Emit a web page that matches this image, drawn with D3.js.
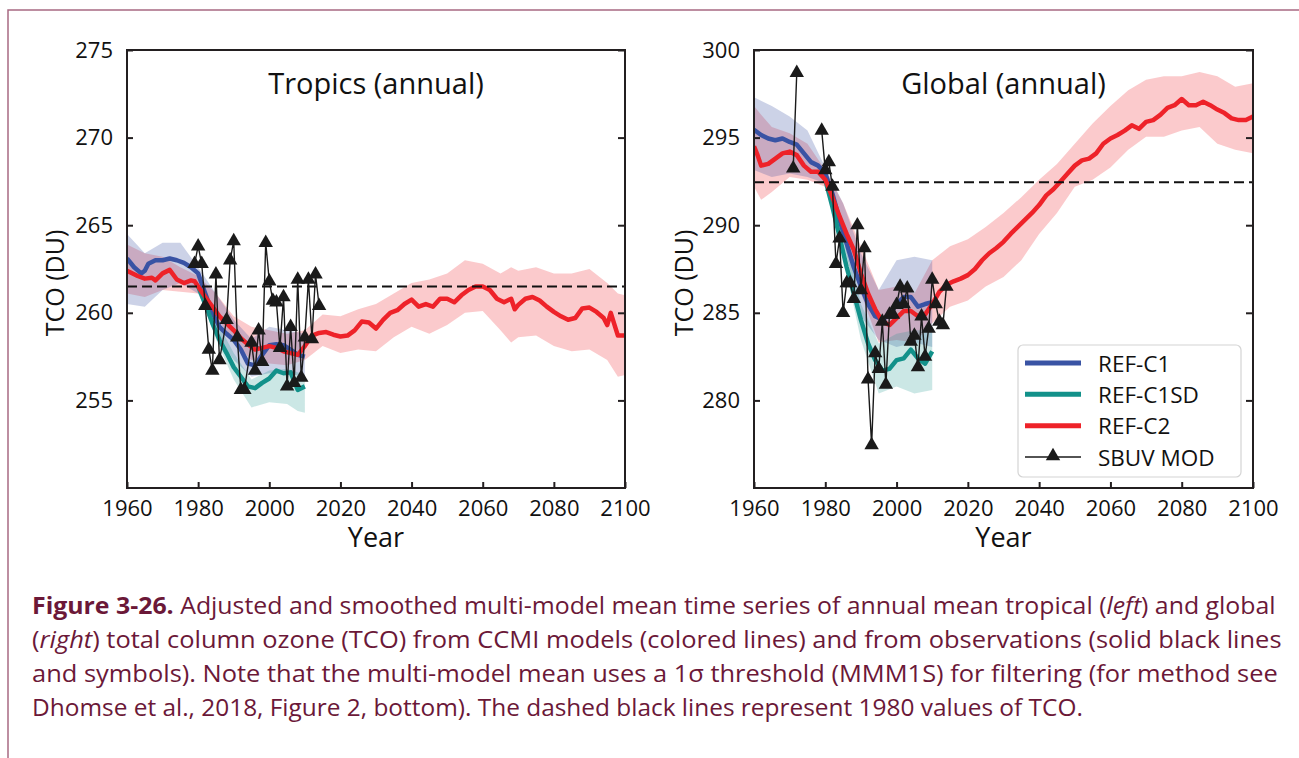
<!DOCTYPE html>
<html><head><meta charset="utf-8">
<script src="https://cdn.jsdelivr.net/npm/d3@7"></script>
<style>body{margin:0;background:#fff} svg{display:block}</style>
</head><body><svg id="c" width="1299" height="758"></svg>
<script>
// ---------------- DATA ----------------
const xTicks = [1960,1980,2000,2020,2040,2060,2080,2100];
const tropYTicks = [255,260,265,270,275];
const globYTicks = [280,285,290,295,300];
const seriesNames = ["REF-C1","REF-C1SD","REF-C2","SBUV MOD"];

// Tropics
const tropRef1980 = 261.5;
const tropC2 = [[1960,262.4],[1962,262.2],[1963,262.1],[1965,261.95],[1967,262.0],[1968,261.85],[1970,262.25],[1972,262.45],[1974,261.9],[1976,261.7],[1978,261.85],[1979,261.8],[1980,261.5],[1982,260.9],[1984,260.35],[1986,259.8],[1988,259.4],[1990,259.0],[1992,258.55],[1994,258.2],[1996,257.9],[1998,258.0],[2000,258.1],[2002,258.0],[2004,257.8],[2006,257.7],[2008,257.6],[2010,258.1],[2012,258.7],[2014,258.85],[2016,258.9],[2018,258.75],[2020,258.65],[2022,258.7],[2024,259.0],[2026,259.5],[2028,259.45],[2030,259.1],[2032,259.6],[2034,260.0],[2036,260.15],[2038,260.5],[2040,260.75],[2042,260.35],[2044,260.5],[2046,260.35],[2048,260.8],[2050,260.8],[2052,260.6],[2054,261.0],[2056,261.3],[2058,261.5],[2060,261.5],[2062,261.3],[2064,260.8],[2066,260.6],[2068,260.8],[2069,260.2],[2070,260.45],[2072,260.8],[2074,260.9],[2076,260.7],[2078,260.35],[2080,260.05],[2082,259.8],[2084,259.6],[2086,259.7],[2088,260.25],[2090,260.3],[2092,260.05],[2094,259.7],[2095,259.3],[2096,260.0],[2098,258.7],[2100,258.7]];
const tropC2Band = [[1960,261.1,263.9],[1965,260.9,263.4],[1970,261.3,263.2],[1975,261.2,262.6],[1980,261.1,262.1],[1985,259.8,261.1],[1990,258.3,259.8],[1995,257.3,259.2],[2000,257.1,259.0],[2005,257.0,258.8],[2010,257.3,259.0],[2015,258.1,259.9],[2020,257.7,259.8],[2025,257.9,260.2],[2030,257.8,260.5],[2035,258.6,261.1],[2040,259.2,261.7],[2045,258.8,261.9],[2050,259.3,262.25],[2055,260.0,263.0],[2060,260.1,262.8],[2065,259.0,262.25],[2068,258.3,262.6],[2070,258.6,262.4],[2075,258.7,262.6],[2080,258.1,262.25],[2085,257.8,262.25],[2090,257.9,262.5],[2095,257.3,261.7],[2098,256.35,261.1],[2100,256.45,261.0]];
const tropC1 = [[1960,263.1],[1962,262.6],[1964,262.25],[1965,262.4],[1966,262.8],[1968,263.0],[1970,263.0],[1972,263.1],[1974,263.0],[1976,262.85],[1978,262.6],[1980,262.25],[1982,261.1],[1984,260.0],[1986,259.2],[1988,258.8],[1990,258.45],[1992,257.9],[1994,257.1],[1996,257.0],[1998,257.6],[2000,258.15],[2002,258.2],[2004,258.15],[2006,257.9],[2008,257.6],[2010,257.5]];
const tropC1Band = [[1960,260.5,264.5],[1965,260.35,263.4],[1970,261.3,264.0],[1975,261.7,264.0],[1980,261.1,262.6],[1985,258.8,261.1],[1990,257.3,259.6],[1995,256.35,258.5],[2000,256.55,259.2],[2005,256.55,259.0],[2010,256.35,258.8]];
const tropC1SD = [[1980,261.5],[1982,260.5],[1984,259.4],[1986,258.45],[1988,257.7],[1990,256.9],[1992,256.35],[1994,255.8],[1996,255.7],[1998,256.0],[2000,256.25],[2002,256.7],[2004,256.55],[2006,256.6],[2008,255.6],[2010,255.8]];
const tropC1SDBand = [[1980,261.3,261.7],[1985,258.5,259.6],[1990,256.2,257.7],[1995,254.6,256.2],[2000,254.9,256.7],[2005,254.8,256.8],[2008,254.4,256.6],[2010,254.3,256.4]];
const tropSBUV = [[1979,262.8],[1980,263.8],[1981,262.8],[1982,260.4],[1983,257.9],[1984,256.7],[1985,262.2],[1986,257.3],[1988,259.6],[1989,263.0],[1990,264.1],[1991,258.6],[1992,255.6],[1993,255.6],[1995,258.3],[1996,256.7],[1997,259.0],[1998,257.2],[1999,264.0],[2000,261.8],[2001,260.7],[2002,260.6],[2003,258.0],[2004,260.9],[2005,255.8],[2006,259.2],[2007,256.0],[2008,261.9],[2009,256.3],[2010,258.6],[2011,261.9],[2012,258.5],[2013,262.2],[2014,260.4]];

// Global
const globRef1980 = 292.45;
const globC2 = [[1960,294.5],[1961,294.0],[1962,293.4],[1964,293.5],[1966,293.8],[1968,294.1],[1970,294.2],[1972,294.0],[1974,293.4],[1976,293.05],[1978,293.05],[1980,292.6],[1982,291.6],[1984,290.5],[1986,289.5],[1988,288.6],[1990,287.25],[1992,286.1],[1994,285.2],[1996,284.5],[1998,284.3],[2000,284.7],[2002,285.1],[2004,285.1],[2006,284.8],[2008,284.9],[2010,285.5],[2012,286.2],[2014,286.6],[2016,286.8],[2018,286.95],[2020,287.15],[2022,287.5],[2024,288.0],[2026,288.4],[2028,288.7],[2030,289.05],[2032,289.5],[2034,289.9],[2036,290.3],[2038,290.7],[2040,291.15],[2042,291.7],[2044,292.05],[2046,292.5],[2048,292.95],[2050,293.4],[2052,293.7],[2054,293.8],[2056,294.1],[2058,294.65],[2060,294.95],[2062,295.15],[2064,295.4],[2066,295.7],[2068,295.5],[2070,295.9],[2072,296.0],[2074,296.3],[2076,296.7],[2078,296.85],[2080,297.2],[2082,296.85],[2084,296.85],[2086,297.05],[2088,296.85],[2090,296.6],[2092,296.4],[2094,296.1],[2096,296.0],[2098,296.0],[2100,296.2]];
const globC2Band = [[1960,292.2,296.8],[1962,291.45,296.3],[1965,291.9,295.6],[1970,292.75,295.25],[1975,292.6,294.65],[1980,292.2,293.15],[1985,289.5,291.25],[1990,286.1,288.8],[1995,283.3,286.3],[2000,283.45,286.5],[2005,283.3,286.1],[2010,284.4,288.0],[2015,285.35,288.8],[2020,285.7,289.2],[2025,286.5,289.9],[2030,287.05,290.7],[2035,288.0,291.6],[2040,289.5,292.6],[2045,290.7,293.5],[2050,292.2,294.65],[2055,292.6,295.8],[2060,293.3,296.8],[2065,294.3,297.7],[2070,295.05,298.3],[2075,295.05,298.5],[2080,295.4,298.5],[2085,295.6,298.75],[2090,294.65,298.5],[2095,294.3,297.9],[2100,294.1,298.1]];
const globC1 = [[1960,295.45],[1962,295.15],[1964,294.95],[1966,294.85],[1968,294.95],[1970,294.75],[1972,294.6],[1974,294.1],[1976,293.6],[1978,293.4],[1980,292.95],[1982,291.8],[1984,290.3],[1986,288.95],[1988,287.6],[1990,286.5],[1992,285.5],[1994,284.8],[1996,284.6],[1998,284.9],[2000,285.5],[2002,285.9],[2004,285.9],[2006,285.35],[2008,285.5],[2010,285.6]];
const globC1Band = [[1960,293.15,297.3],[1965,292.75,296.8],[1970,292.95,296.2],[1975,292.75,295.4],[1980,292.4,293.3],[1985,289.15,291.25],[1990,284.8,288.4],[1995,283.45,286.3],[2000,283.05,288.0],[2005,283.3,288.2],[2010,283.05,288.0]];
const globC1SD = [[1980,292.6],[1982,291.05],[1984,289.35],[1986,287.6],[1988,286.1],[1990,284.6],[1992,283.25],[1994,282.3],[1996,281.7],[1998,281.8],[2000,282.3],[2002,282.4],[2004,282.9],[2006,282.4],[2008,282.1],[2010,282.8]];
const globC1SDBand = [[1980,292.4,292.8],[1985,288.2,290.1],[1990,283.45,285.5],[1995,280.4,283.25],[2000,280.8,283.8],[2005,280.4,284.0],[2010,280.6,284.0]];
const globSBUV = [[1971,293.25],[1972,298.7],[1979,null],[1979,295.4],[1980,293.15],[1981,293.6],[1982,292.2],[1983,287.8],[1984,289.25],[1985,285.0],[1986,286.7],[1987,286.7],[1988,285.8],[1989,290.0],[1990,286.3],[1991,288.7],[1992,281.2],[1993,277.45],[1994,282.7],[1995,281.8],[1996,284.5],[1997,280.9],[1998,284.9],[1999,284.9],[2000,285.45],[2001,286.5],[2002,285.5],[2003,286.4],[2004,283.35],[2005,283.7],[2006,281.9],[2007,284.8],[2008,282.5],[2009,284.1],[2010,286.9],[2011,285.5],[2012,284.5],[2013,284.3],[2014,286.5]];

const captionColor = "#6b1838";

// ---------------- DRAW ----------------
const svg = d3.select("#c");
const FONT = "'Open Sans', 'Noto Sans', sans-serif";
const colC1 = "#3953a4", colSD = "#12918a", colC2 = "#ee2229";

// frame
svg.append("path").attr("d","M8,758 V10 H1299").attr("fill","none").attr("stroke","#a86a82").attr("stroke-width",1.5);

const panels = [
  {L:127,R:625,T:50,B:488,dom:[250,275],ticks:tropYTicks,title:"Tropics (annual)",ref:tropRef1980,
   c1:tropC1,c1b:tropC1Band,sd:tropC1SD,sdb:tropC1SDBand,c2:tropC2,c2b:tropC2Band,obs:tropSBUV,ylabX:55,legend:false},
  {L:754,R:1253,T:50,B:488,dom:[275,300],ticks:globYTicks,title:"Global (annual)",ref:globRef1980,
   c1:globC1,c1b:globC1Band,sd:globC1SD,sdb:globC1SDBand,c2:globC2,c2b:globC2Band,obs:globSBUV,ylabX:684,legend:true}
];

panels.forEach((p,i)=>{
  const x = d3.scaleLinear().domain([1960,2100]).range([p.L,p.R]);
  const y = d3.scaleLinear().domain(p.dom).range([p.B,p.T]);
  const g = svg.append("g");
  const cid = "clip"+i;
  svg.append("clipPath").attr("id",cid).append("rect").attr("x",p.L).attr("y",p.T).attr("width",p.R-p.L).attr("height",p.B-p.T);
  const pg = g.append("g").attr("clip-path",`url(#${cid})`);
  const area = d3.area().x(d=>x(d[0])).y0(d=>y(d[1])).y1(d=>y(d[2]));
  const line = d3.line().defined(d=>d[1]!=null).x(d=>x(d[0])).y(d=>y(d[1]));

  pg.append("path").attr("d",area(p.c2b)).attr("fill",colC2).attr("fill-opacity",0.24);
  pg.append("path").attr("d",area(p.c1b)).attr("fill",colC1).attr("fill-opacity",0.26);
  pg.append("path").attr("d",area(p.sdb)).attr("fill",colSD).attr("fill-opacity",0.22);

  pg.append("path").attr("d",line(p.c1)).attr("fill","none").attr("stroke",colC1).attr("stroke-width",4.5).attr("stroke-linejoin","round");
  pg.append("path").attr("d",line(p.sd)).attr("fill","none").attr("stroke",colSD).attr("stroke-width",4.5).attr("stroke-linejoin","round");
  pg.append("path").attr("d",line(p.c2)).attr("fill","none").attr("stroke",colC2).attr("stroke-width",4.5).attr("stroke-linejoin","round");

  pg.append("line").attr("x1",x(1960)).attr("x2",x(2100)).attr("y1",y(p.ref)).attr("y2",y(p.ref))
    .attr("stroke","#111").attr("stroke-width",2).attr("stroke-dasharray","10,5");

  g.append("path").attr("d",line(p.obs)).attr("fill","none").attr("stroke","#1a1a1a").attr("stroke-width",1.4);
  const tri = d3.symbol(d3.symbolTriangle).size(90);
  g.selectAll(".tri").data(p.obs.filter(d=>d[1]!=null)).join("path")
    .attr("d",tri).attr("transform",d=>`translate(${x(d[0])},${y(d[1])})`).attr("fill","#1a1a1a");

  // frame
  g.append("rect").attr("x",p.L).attr("y",p.T).attr("width",p.R-p.L).attr("height",p.B-p.T)
    .attr("fill","none").attr("stroke","#231f20").attr("stroke-width",2);

  // axes
  const xa = g.append("g").attr("transform",`translate(0,${p.B})`)
    .call(d3.axisBottom(x).tickValues(xTicks).tickFormat(d3.format("d")).tickSizeInner(-6).tickSizeOuter(0).tickPadding(12));
  xa.select(".domain").remove();
  xa.selectAll("line").attr("stroke","#231f20").attr("stroke-width",2);
  xa.selectAll("text").attr("font-family",FONT).attr("font-size",22).attr("fill","#111");

  const ya = g.append("g").attr("transform",`translate(${p.L},0)`)
    .call(d3.axisLeft(y).tickValues(p.ticks).tickFormat(d3.format("d")).tickSizeInner(-6).tickSizeOuter(0).tickPadding(14));
  ya.select(".domain").remove();
  ya.selectAll("line").attr("stroke","#231f20").attr("stroke-width",2);
  ya.selectAll("text").attr("font-family",FONT).attr("font-size",22).attr("fill","#111");

  const yr = g.append("g").attr("transform",`translate(${p.R},0)`)
    .call(d3.axisRight(y).tickValues(p.ticks).tickFormat("").tickSizeInner(-7).tickSizeOuter(0));
  yr.select(".domain").remove();
  yr.selectAll("line").attr("stroke","#231f20").attr("stroke-width",2);

  // titles
  g.append("text").attr("x",(p.L+p.R)/2).attr("y",94).attr("text-anchor","middle")
    .attr("font-family",FONT).attr("font-size",29).attr("fill","#111").text(p.title);
  g.append("text").attr("x",(p.L+p.R)/2).attr("y",547).attr("text-anchor","middle")
    .attr("font-family",FONT).attr("font-size",27).attr("fill","#111").text("Year");
  g.append("text").attr("transform",`translate(${p.ylabX+9},${283}) rotate(-90)`).attr("text-anchor","middle")
    .attr("font-family",FONT).attr("font-size",25).attr("fill","#111").text("TCO (DU)");

  if(p.legend){
    const lg = g.append("g");
    lg.append("rect").attr("x",1018).attr("y",345).attr("width",223).attr("height",132).attr("rx",5)
      .attr("fill","#fff").attr("fill-opacity",0.85).attr("stroke","#d4d4d4").attr("stroke-width",1.2);
    const cols = [colC1,colSD,colC2,"#1a1a1a"];
    const ly = d3.scalePoint().domain(seriesNames).range([363,457]);
    seriesNames.forEach((n,k)=>{
      const yy = ly(n);
      lg.append("line").attr("x1",1025).attr("x2",1081).attr("y1",yy).attr("y2",yy)
        .attr("stroke",cols[k]).attr("stroke-width",k<3?5:1.4);
      if(k===3) lg.append("path").attr("d",tri).attr("transform",`translate(1053,${yy-1})`).attr("fill","#1a1a1a");
      lg.append("text").attr("x",1098).attr("y",yy).attr("dominant-baseline","central")
        .attr("font-family",FONT).attr("font-size",22.5).attr("fill","#111").text(n);
    });
  }
});

// caption
const capLines = [
  [["Figure 3-26.","b"],[" Adjusted and smoothed multi-model mean time series of annual mean tropical (",""],["left","i"],[") and global",""]],
  [["(",""],["right","i"],[") total column ozone (TCO) from CCMI models (colored lines) and from observations (solid black lines",""]],
  [["and symbols). Note that the multi-model mean uses a 1σ threshold (MMM1S) for filtering (for method see",""]],
  [["Dhomse et al., 2018, Figure 2, bottom). The dashed black lines represent 1980 values of TCO.",""]]
];
const capY = [614,648,682,716];
const targetW = [1244,1250,1246,1051];
const capNodes = capLines.map((ln,k)=>{
  const t = svg.append("text").attr("x",0).attr("y",0).attr("font-family",FONT).attr("font-size",23).attr("fill",captionColor);
  ln.forEach(([s,st])=>{
    const ts = t.append("tspan").text(s);
    if(st==="b") ts.attr("font-weight","bold");
    if(st==="i") ts.attr("font-style","italic");
  });
  return t;
});
capNodes.forEach((t,k)=>{
  const s = targetW[k]/t.node().getComputedTextLength();
  t.attr("transform",`translate(32,${capY[k]}) scale(${s},1)`);
});
</script></body></html>
